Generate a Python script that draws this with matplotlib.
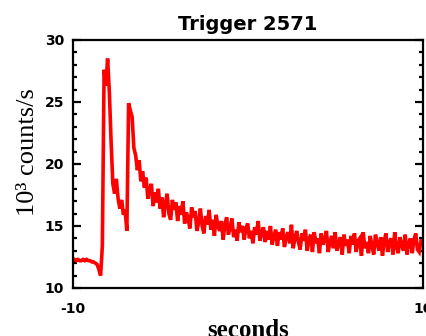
import numpy as np
import matplotlib
matplotlib.use("Agg")
import matplotlib.pyplot as plt
from matplotlib.ticker import MultipleLocator

# Light curve, 0.1 s bins starting at -10 s (units: 10^3 counts/s)
BIN_START = -10.0
BIN_WIDTH = 0.1
RATE = [
    12.2, 12.3, 12.2, 12.3, 12.2, 12.2, 12.3, 12.2, 12.3, 12.2,
    12.2, 12.1, 12.1, 12.0, 11.9, 11.5, 11.0, 13.4, 27.6, 26.3,
    28.5, 25.8, 21.8, 18.4, 17.6, 18.8, 17.2, 16.4, 17.1, 15.9,
    16.3, 14.6, 24.9, 24.3, 23.8, 21.3, 20.7, 19.5, 20.3, 18.6,
    19.4, 18.1, 18.9, 17.2, 17.9, 18.4, 16.6, 17.7, 16.9, 18.0,
    16.4, 17.3, 15.7, 16.8, 17.6, 16.0, 15.5, 17.1, 16.3, 16.9,
    15.4, 16.6, 15.9, 17.0, 15.2, 16.1, 15.6, 14.8, 16.5, 15.7,
    16.2, 14.6, 15.3, 16.4, 15.0, 14.4, 15.8, 15.1, 16.3, 14.7,
    15.5, 14.2, 15.9, 15.0, 14.6, 15.4, 13.9, 15.1, 15.7, 14.3,
    14.9, 15.6, 14.1, 14.7, 13.8, 15.3, 14.5, 15.0, 13.9, 14.8,
    15.2, 14.0, 14.6, 13.6, 14.9, 14.3, 15.4, 13.8, 14.4, 14.9,
    13.7, 14.6, 13.9, 15.0, 13.5, 14.2, 14.7, 13.4, 14.5, 13.9,
    14.8, 13.3, 14.1, 14.5, 13.6, 15.1, 13.2, 14.0, 14.6, 13.7,
    13.1, 14.4, 13.8, 14.7, 13.0, 13.9, 14.3, 12.9, 14.5, 13.6,
    14.0, 12.8, 14.4, 13.5, 13.9, 14.6, 12.9, 13.7, 14.2, 13.2,
    14.5, 13.0, 13.6, 14.1, 12.7, 14.3, 13.4, 13.9, 12.8, 14.2,
    13.5, 14.4, 12.9, 13.8, 14.0, 12.6, 14.5, 13.2, 13.7, 12.8,
    14.2, 13.4, 12.7, 14.3, 13.6, 13.0, 14.1, 12.6, 13.8, 14.4,
    12.9, 13.7, 14.0, 12.7, 14.5, 13.3, 12.8, 14.1, 13.5, 13.0,
    14.3, 12.7, 13.6, 14.0, 12.8, 13.9, 14.4, 13.1, 12.9, 13.8,
]
X_TICKS = [-10, 10]
Y_TICKS = [10, 15, 20, 25, 30]
TITLE = "Trigger 2571"

times = BIN_START + BIN_WIDTH * np.arange(len(RATE))

fig = plt.figure(figsize=(4.27, 3.36), dpi=100)
ax = fig.add_axes([0.170, 0.143, 0.820, 0.738])

ax.plot(times, RATE, color="#ff0000", linewidth=2.6, solid_joinstyle="miter")

ax.set_xlim(-10, 10)
ax.set_ylim(10, 30)
ax.set_xticks(X_TICKS)
ax.set_xticklabels(["-10", "10"])
ax.set_yticks(Y_TICKS)
ax.yaxis.set_minor_locator(MultipleLocator(1))

for s in ax.spines.values():
    s.set_linewidth(1.6)

ax.tick_params(axis="y", which="both", direction="in", left=True, right=True,
               width=1.6, labelsize=10, pad=6)
ax.tick_params(axis="y", which="major", length=6)
ax.tick_params(axis="y", which="minor", length=3)
ax.tick_params(axis="x", which="both", direction="in", length=0,
               labelsize=10, pad=10)
for lab in ax.get_xticklabels() + ax.get_yticklabels():
    lab.set_fontweight("bold")
    lab.set_family("DejaVu Sans")

ax.set_title(TITLE, fontsize=14, fontweight="bold", family="DejaVu Sans", pad=7)
ax.set_xlabel("seconds", fontsize=18, fontweight="bold", family="Liberation Serif")
ax.xaxis.set_label_coords(0.5, -0.125)
ax.set_ylabel("10³ counts/s", fontsize=19, family="Liberation Serif")
ax.yaxis.set_label_coords(-0.095, 0.55)

fig.savefig("out.png", dpi=100)
